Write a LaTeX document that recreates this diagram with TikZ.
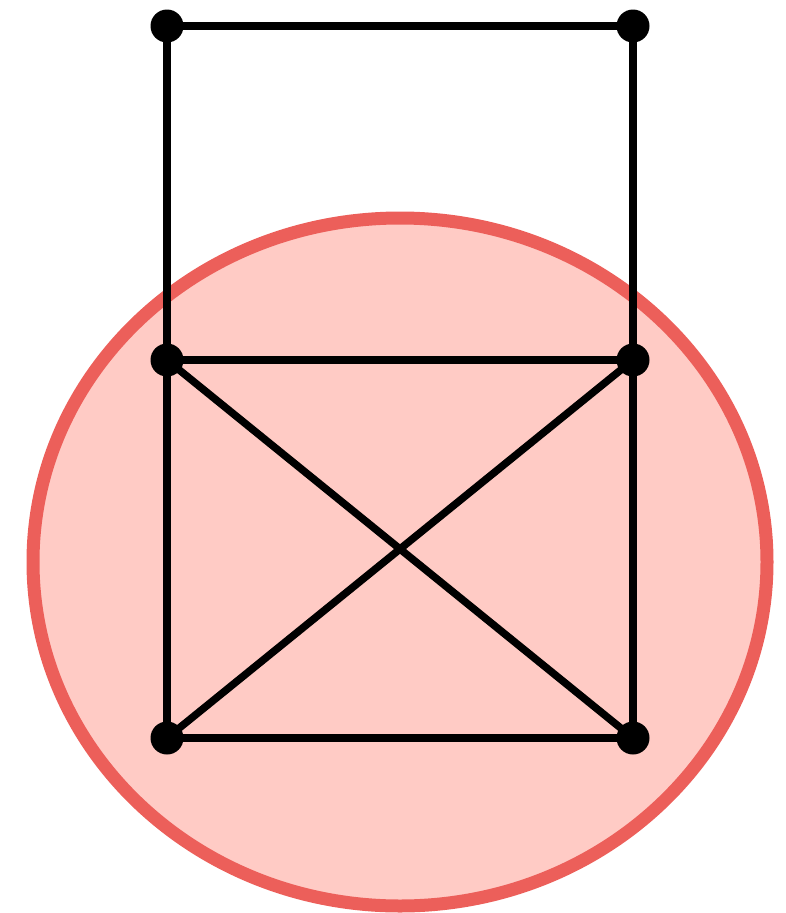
\documentclass[tikz,border=0pt]{standalone}
\begin{document}
\begin{tikzpicture}[x=1pt,y=-1pt,
  vtx/.style={circle,fill=black,inner sep=0pt,minimum size=33pt},
  edge/.style={line width=7.5pt,black}]
\useasboundingbox (0,0) rectangle (786,913);
\definecolor{ringred}{HTML}{EC5F5A}
\definecolor{fillred}{HTML}{FFCBC5}
\draw[line width=13pt,draw=ringred,fill=fillred] (400,562) ellipse [x radius=367pt, y radius=344pt];
\node[vtx] (a) at (167,26) {};
\node[vtx] (b) at (633,26) {};
\node[vtx] (c) at (167,360) {};
\node[vtx] (d) at (633,360) {};
\node[vtx] (e) at (167,738) {};
\node[vtx] (f) at (633,738) {};
\draw[edge] (a.center) -- (b.center);
\draw[edge] (a.center) -- (c.center);
\draw[edge] (b.center) -- (d.center);
\draw[edge] (c.center) -- (d.center);
\draw[edge] (c.center) -- (e.center);
\draw[edge] (d.center) -- (f.center);
\draw[edge] (e.center) -- (f.center);
\draw[edge] (c.center) -- (f.center);
\draw[edge] (d.center) -- (e.center);
\end{tikzpicture}
\end{document}
